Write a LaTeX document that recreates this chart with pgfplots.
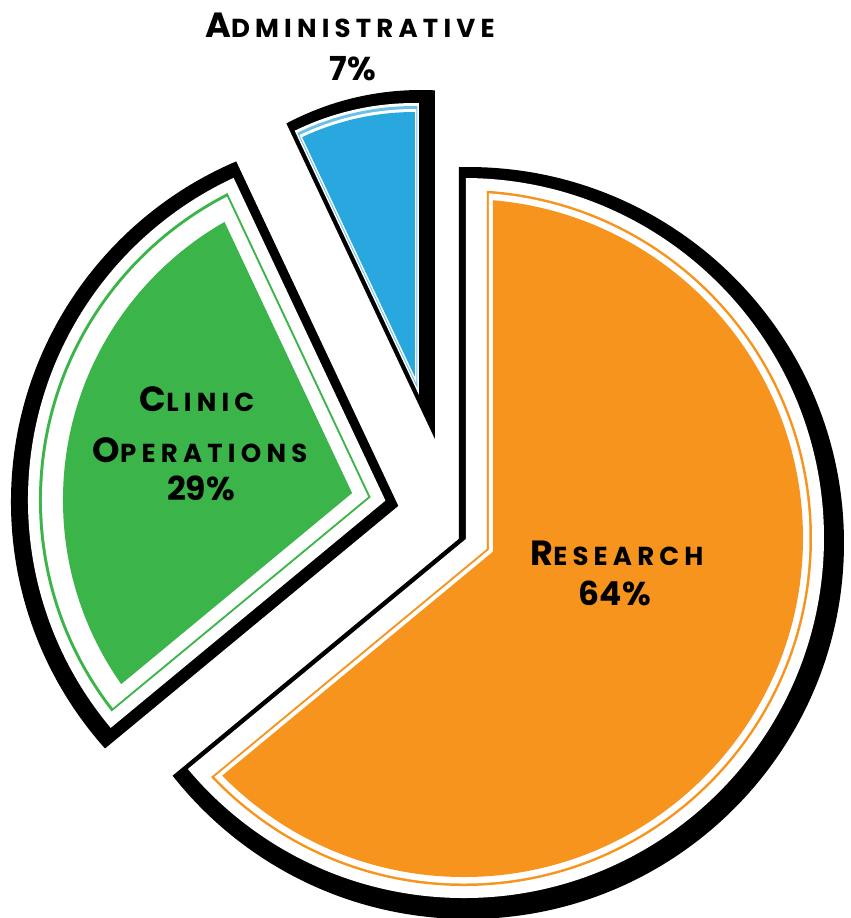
\documentclass[border=0pt]{standalone}
\usepackage{pgfplots}
\usepackage{pgfplotstable}
\pgfplotsset{compat=1.18}
\usepackage{fontspec}
\setmainfont{Poppins}

\definecolor{research}{RGB}{247,148,30}
\definecolor{clinic}{RGB}{59,181,74}
\definecolor{admin}{RGB}{41,168,224}

% share of the budget, in the order the slices go round (clockwise from 12 o'clock)
\pgfplotstableread{
label          pct
Research       64
Clinic         29
Administrative 7
}\piedata

% angles of one slice from its start angle and its share
\newcommand\setslice[2]{%
  \pgfmathsetmacro\aone{#1}%
  \pgfmathsetmacro\atwo{#1-3.6*#2}%
  \pgfmathsetmacro\amid{#1-1.8*#2}%
  \pgfmathsetmacro\sinhalf{sin(1.8*#2)}}

% one layer of a slice: #1,#2 centre (picture px, y down), #3,#4 shift,
% #5 inset of the straight edges, #6 radius, #7 colour
\newcommand\layer[7]{%
  \pgfmathsetmacro\dd{#5/\sinhalf}%
  \pgfmathsetmacro\qx{#1+#3}%
  \pgfmathsetmacro\qy{918-(#2+#4)}%
  \pgfmathsetmacro\px{\qx+\dd*cos(\amid)}%
  \pgfmathsetmacro\py{\qy+\dd*sin(\amid)}%
  \begin{scope}
    \clip (axis cs:\px,\py) -- ++(\aone:2000pt)
      arc[start angle=\aone, end angle=\atwo, radius=2000pt] -- cycle;
    \fill[#7] (axis cs:\qx,\qy) circle[radius=#6pt];
  \end{scope}}

\newcommand\capsc[2]{{\fontsize{35}{35}\selectfont #1}{\fontsize{26}{26}\selectfont #2}}

\begin{document}
\begin{tikzpicture}
  \useasboundingbox (0,0) rectangle (851pt,918pt);
  \pgfplotstablegetelem{0}{pct}\of\piedata \edef\pR{\pgfplotsretval}
  \pgfplotstablegetelem{1}{pct}\of\piedata \edef\pC{\pgfplotsretval}
  \pgfplotstablegetelem{2}{pct}\of\piedata \edef\pA{\pgfplotsretval}
  \begin{axis}[
    x=1pt, y=1pt,
    scale only axis,
    xmin=0, xmax=851,
    ymin=0, ymax=918,
    hide axis,
    clip=false,
  ]
  \pgfplotsextra{%
    % Research
    \setslice{90}{\pR}%
    \layer{464}{538}{4}{5}{-9}{376}{black}%
    \layer{464}{538}{0}{0}{2}{360}{white}%
    \layer{464}{538}{0}{0}{23}{348}{research}%
    \layer{464}{538}{0}{0}{25}{345.5}{white}%
    \layer{464}{538}{0}{0}{29}{339}{research}%
    % Clinic Operations
    \pgfmathsetmacro\sC{90-3.6*\pR}%
    \setslice{\sC}{\pC}%
    \layer{383}{500}{-2}{2}{-14}{370}{black}%
    \layer{383}{500}{0}{0}{-2}{355}{white}%
    \layer{383}{500}{0}{0}{10}{344}{clinic}%
    \layer{383}{500}{0}{0}{12}{341}{white}%
    \layer{383}{500}{0}{0}{25}{320}{clinic}%
    % Administrative
    \pgfmathsetmacro\sA{90-3.6*(\pR+\pC)}%
    \setslice{\sA}{\pA}%
    \layer{415}{377}{6}{0}{-13.8}{287}{black}%
    \layer{415}{377}{0}{0}{-4}{274}{white}%
    \layer{415}{377}{0}{0}{-2.5}{271}{admin!70}%
    \layer{415}{377}{0}{0}{-1.5}{268}{white}%
    \layer{415}{377}{0}{0}{0}{265}{admin}%
  }
  \begin{scope}[every node/.style={font=\bfseries, inner sep=0pt, anchor=base}]
    \node at (axis cs:350,{918-37}) {\addfontfeatures{LetterSpace=20}\capsc{A}{DMINISTRATIVE}};
    \node at (axis cs:353,{918-80}) {\fontsize{33}{33}\selectfont 7\%};
    \node at (axis cs:197,{918-411}) {\addfontfeatures{LetterSpace=20}\capsc{C}{LINIC}};
    \node at (axis cs:200,{918-462}) {\addfontfeatures{LetterSpace=20}\capsc{O}{PERATIONS}};
    \node at (axis cs:201,{918-500}) {\fontsize{33}{33}\selectfont 29\%};
    \node at (axis cs:617,{918-565}) {\addfontfeatures{LetterSpace=20}\capsc{R}{ESEARCH}};
    \node at (axis cs:615,{918-605}) {\fontsize{33}{33}\selectfont 64\%};
  \end{scope}
  \end{axis}
\end{tikzpicture}
\end{document}
